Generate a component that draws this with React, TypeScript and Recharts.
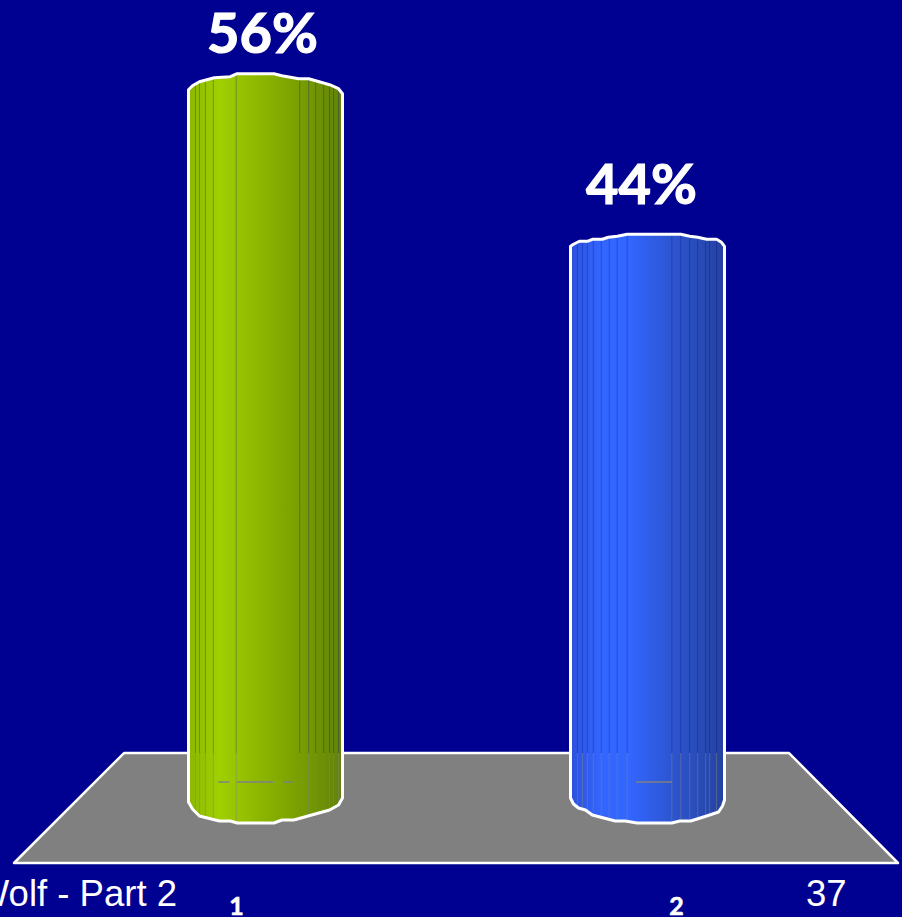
import { BarChart, Bar, XAxis, YAxis, LabelList, ReferenceArea } from 'recharts'

const categories = ['1', '2']
const shares = [56, 44]

const rows = categories.map((name, i) => ({ name, share: shares[i] }))

const BG = '#000091'
const FLOOR_TOP = 5.23 // floor back edge, in value units
const FLOOR_RISE = 70

// the cylinders are hand-faceted in the picture, so each one has its own outline
const TOP_EDGE = [
  [[0, 16], [4, 12], [11, 8], [26, 4], [42, 3], [49, 0], [86, 0], [94, 2], [111, 5], [121, 5], [142, 11], [151, 15], [155, 20]],
  [[0, 12], [3, 10], [9, 7], [17, 7], [22, 5], [32, 5], [38, 3], [47, 2], [57, 0], [111, 0], [120, 2], [128, 3], [137, 5], [147, 5], [152, 8], [155, 12]],
]
const BOTTOM_EDGE = [
  [[0, -21], [4, -14], [11, -7], [31, -2], [42, -2], [49, 0], [86, 0], [94, -3], [106, -3], [142, -13], [151, -18], [155, -25]],
  [[0, -25], [3, -19], [8, -15], [15, -13], [22, -8], [45, -2], [55, -2], [67, 0], [102, 0], [110, -2], [121, -2], [137, -7], [149, -11], [153, -17], [155, -23]],
]
const SEAMS = [
  [7, 11, 17, 25, 48, 112, 121, 128, 136, 142, 146, 151],
  [7, 12, 17, 23, 31, 39, 47, 57, 102, 111, 120, 128, 136, 140, 147],
]
const DASHES = [
  [[30, 41], [49, 85], [95, 105]],
  [[66, 102]],
]
const LABEL_NUDGE = [[-3, -21], [-6, -30]]
const TICK_NUDGE = [-29, 29]

function Cylinder(props: any) {
  const { x, y, width, height, index } = props
  const base = y + height
  const k = width / 155
  const top = TOP_EDGE[index].map(([dx, dy]) => `${x + dx * k},${y + dy}`)
  const bottom = BOTTOM_EDGE[index].map(([dx, dy]) => `${x + dx * k},${base + dy}`).reverse()
  const outline = `M${top.join('L')}L${bottom.join('L')}Z`
  const clip = `cyl-clip-${index}`
  return (
    <g>
      <clipPath id={clip}><path d={outline} /></clipPath>
      <path d={outline} fill={`url(#cyl-${index})`} />
      <g clipPath={`url(#${clip})`}>
        {SEAMS[index].map((dx) => (
          <g key={dx}>
            <line x1={x + dx * k} x2={x + dx * k} y1={y} y2={base - FLOOR_RISE} stroke={BG} strokeOpacity={0.28} />
            <line x1={x + dx * k} x2={x + dx * k} y1={base - FLOOR_RISE} y2={base} stroke="#808080" strokeOpacity={0.5} />
          </g>
        ))}
        {DASHES[index].map(([a, b]) => (
          <line key={a} x1={x + a * k} x2={x + b * k} y1={base - 41} y2={base - 41} stroke="#808080" strokeWidth={1.5} />
        ))}
      </g>
      <path d={outline} fill="none" stroke="#fff" strokeWidth={3} strokeLinejoin="round" />
    </g>
  )
}

function Floor(props: any) {
  const { x, y, width, height } = props
  const front = y + height + 40
  const pts = [
    [x + 49.5, y],
    [x + width - 49.5, y],
    [x + width + 59.5, front],
    [x - 60.5, front],
  ]
  return <polygon points={pts.map((p) => p.join(',')).join(' ')} fill="#808080" stroke="#fff" strokeWidth={2.5} strokeLinejoin="round" />
}

function ShareLabel(props: any) {
  const { x, y, width, value, index } = props
  const [dx, dy] = LABEL_NUDGE[index]
  return (
    <text x={x + width / 2 + dx} y={y + dy} textAnchor="middle" fill="#fff" stroke="#fff" strokeWidth={1.2} fontFamily="Lato" fontWeight={700} fontSize={56}>
      {value}%
    </text>
  )
}

function CategoryTick(props: any) {
  const { x, y, payload, index } = props
  return (
    <text x={x + TICK_NUDGE[index]} y={y + 84} textAnchor="middle" fill="#fff" stroke="#fff" strokeWidth={0.6} fontFamily="Lato" fontWeight={700} fontSize={25}>
      {payload.value}
    </text>
  )
}

export default function App() {
  return (
    <div style={{ position: 'absolute', left: 0, top: 0, width: 902, height: 917, overflow: 'hidden', background: BG }}>
      <BarChart width={902} height={917} data={rows} margin={{ top: 20.2, right: 63.5, bottom: 0, left: 74.5 }}>
        <defs>
          <linearGradient id="cyl-0" x1="0" x2="1" y1="0" y2="0">
            <stop offset="0" stopColor="#8cb800" />
            <stop offset="0.2" stopColor="#a0d000" />
            <stop offset="0.5" stopColor="#8ab200" />
            <stop offset="0.75" stopColor="#769c00" />
            <stop offset="1" stopColor="#62820a" />
          </linearGradient>
          <linearGradient id="cyl-1" x1="0" x2="1" y1="0" y2="0">
            <stop offset="0" stopColor="#2c52dc" />
            <stop offset="0.2" stopColor="#3366ff" />
            <stop offset="0.38" stopColor="#3366ff" />
            <stop offset="0.66" stopColor="#2d55d0" />
            <stop offset="1" stopColor="#24429f" />
          </linearGradient>
        </defs>
        <XAxis dataKey="name" height={94} axisLine={false} tickLine={false} tick={CategoryTick} interval={0} />
        <YAxis hide domain={[0, 60]} />
        <ReferenceArea y1={0} y2={FLOOR_TOP} ifOverflow="visible" shape={Floor} />
        <Bar dataKey="share" barSize={154} shape={Cylinder} isAnimationActive={false}>
          <LabelList dataKey="share" content={ShareLabel} />
        </Bar>
        <text x={177} y={906} textAnchor="end" fill="#fff" fontFamily="Liberation Sans" fontSize={36.5}>Wolf - Part 2</text>
        <text x={806} y={906} fill="#fff" fontFamily="Liberation Sans" fontSize={36.5}>37</text>
      </BarChart>
    </div>
  )
}
